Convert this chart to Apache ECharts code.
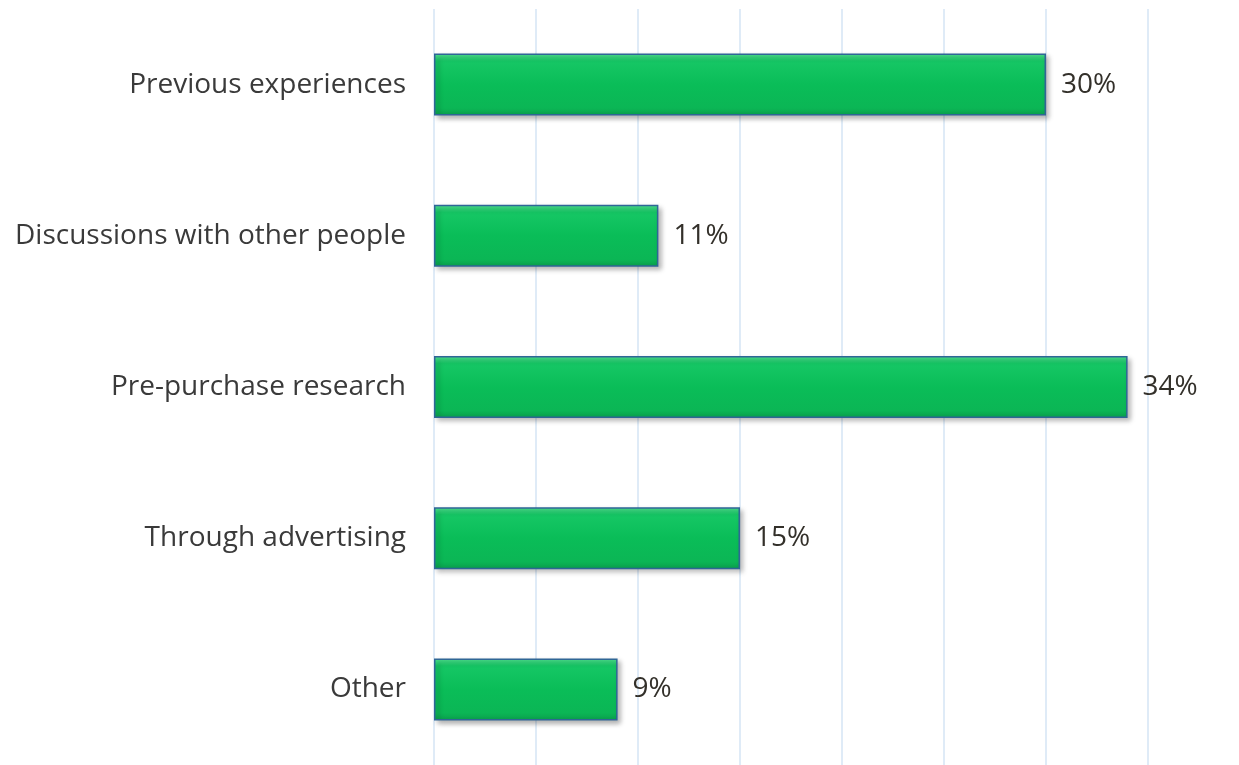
<!DOCTYPE html>
<html><head><meta charset="utf-8">
<script src="https://cdn.jsdelivr.net/npm/echarts@6/dist/echarts.min.js"></script>
<style>html,body{margin:0;padding:0;background:#fff}#c{width:1239px;height:765px}</style>
</head><body><div id="c"></div>
<script>
const categories = ["Previous experiences","Discussions with other people","Pre-purchase research","Through advertising","Other"];
const values = [30, 11, 34, 15, 9];
const xTicks = [0,5,10,15,20,25,30,35];

const chart = echarts.init(document.getElementById('c'));
chart.setOption({
  animation:false,
  grid:{left:434, right:91, top:9, bottom:-3, containLabel:false},
  xAxis:{type:'value', min:xTicks[0], max:xTicks[xTicks.length-1], interval:5, axisLabel:{show:false},
    axisLine:{show:false}, axisTick:{show:false},
    splitLine:{show:true, lineStyle:{color:'#d5e5f5', width:1.5}}},
  yAxis:{type:'category', inverse:true, data:categories,
    axisLine:{show:false}, axisTick:{show:false},
    axisLabel:{margin:28, fontSize:28, color:'#3a3a3a', fontFamily:'Open Sans'}},
  series:[{type:'bar', data:values, barWidth:'41%',
    itemStyle:{
      color:{type:'linear',x:0,y:0,x2:0,y2:1,colorStops:[
        {offset:0,color:'#52e592'},{offset:0.12,color:'#16c765'},{offset:0.5,color:'#0abd58'},{offset:0.88,color:'#0bb655'},{offset:1,color:'#0a9e4c'}]},
      borderColor:'#2f6696', borderWidth:1.5,
      shadowColor:'rgba(0,0,0,0.3)', shadowBlur:5, shadowOffsetX:3, shadowOffsetY:3},
    label:{show:true, position:'right', distance:15, fontSize:28, color:'#33302a', fontFamily:'Open Sans',
      formatter:p=>p.value+'%'}}]
});
</script></body></html>
